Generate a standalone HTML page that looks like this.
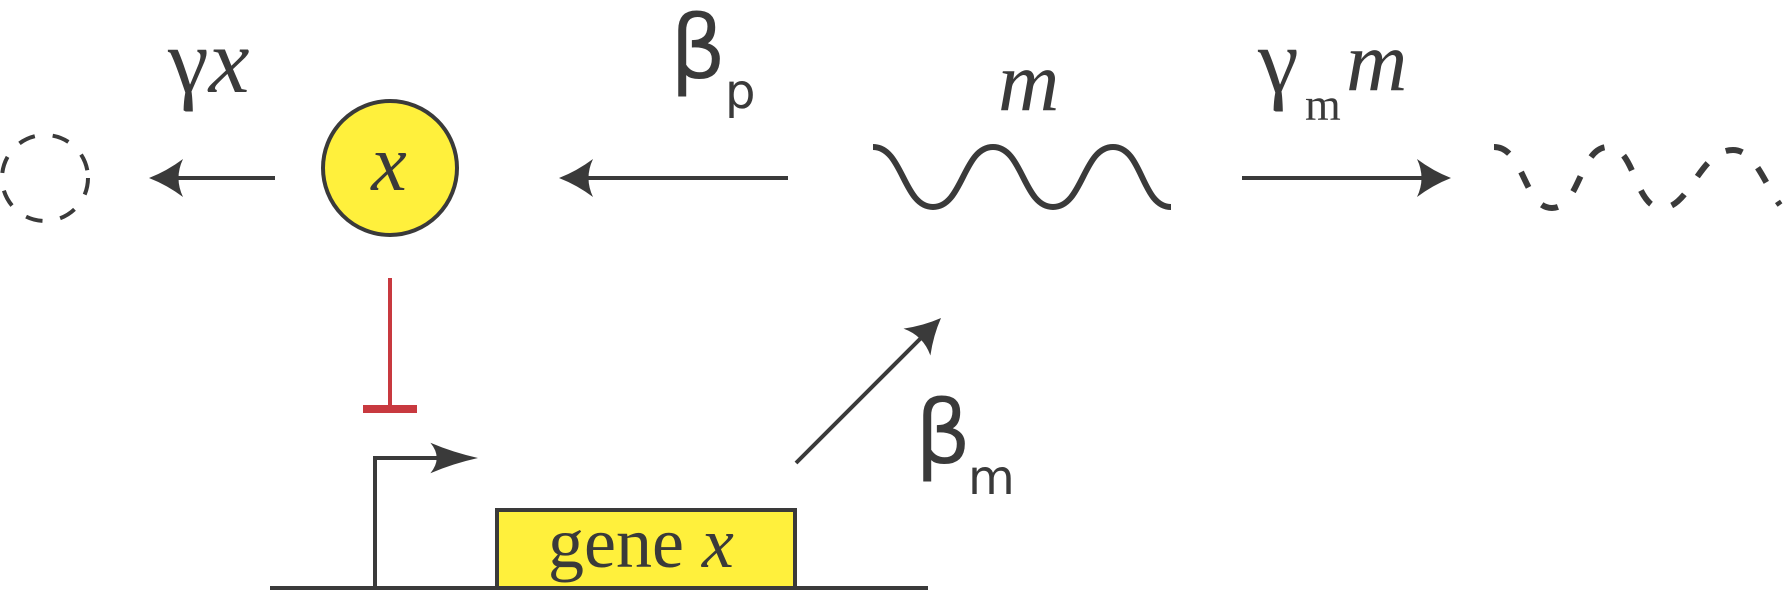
<!DOCTYPE html>
<html><head><meta charset="utf-8"><style>
html,body{margin:0;padding:0;background:#fff;}
svg{display:block;}
.s{font-family:"Liberation Serif",serif;fill:#3a3a3a;}
.d{font-family:"DejaVu Sans",sans-serif;fill:#3a3a3a;}
</style></head><body>
<svg width="1792" height="591" viewBox="0 0 1792 591" xmlns="http://www.w3.org/2000/svg">
<defs>
<path id="ah" d="M0,0 Q-18,-7 -34,-19 Q-25,0 -34,19 Q-18,7 0,0Z" fill="#3a3a3a"/>
</defs>
<!-- dashed degraded protein -->
<circle cx="45" cy="178" r="43" fill="none" stroke="#3a3a3a" stroke-width="4" stroke-dasharray="17 18"/>
<!-- arrow 1 -->
<line x1="275" y1="178" x2="170" y2="178" stroke="#3a3a3a" stroke-width="4"/>
<use href="#ah" transform="translate(149,178) rotate(180)"/>
<text class="s" x="168" y="92" font-size="92">γ<tspan font-style="italic">x</tspan></text>
<!-- protein -->
<circle cx="390" cy="168" r="67" fill="#fff03c" stroke="#3a3a3a" stroke-width="4"/>
<text class="s" x="389" y="190" font-size="80" font-style="italic" text-anchor="middle">x</text>
<!-- arrow 2 -->
<line x1="788" y1="178" x2="580" y2="178" stroke="#3a3a3a" stroke-width="4"/>
<use href="#ah" transform="translate(559,178) rotate(180)"/>
<text class="d" x="670" y="78" font-size="88">β</text>
<text class="d" x="725" y="108" font-size="48">p</text>
<!-- mRNA -->
<path d="M873,147 C903,147 903,207 933,207 C963,207 963,147 993,147 C1023,147 1023,207 1053,207 C1083,207 1083,147 1113,147 C1143,147 1141,207 1171,207" fill="none" stroke="#3a3a3a" stroke-width="6"/>
<text class="s" x="998" y="110" font-size="85" font-style="italic">m</text>
<!-- arrow 3 -->
<line x1="1242" y1="178" x2="1430" y2="178" stroke="#3a3a3a" stroke-width="4"/>
<use href="#ah" transform="translate(1451,178)"/>
<text class="s" x="1258" y="92" font-size="92">γ</text>
<text class="s" x="1305" y="120" font-size="46">m</text>
<text class="s" x="1346" y="90" font-size="85" font-style="italic">m</text>
<!-- degraded mRNA -->
<path d="M1494,147 C1524,147 1524,208 1552,208 C1580,208 1580,147 1608,147 C1636,147 1634,208 1662,208 C1690,208 1700,150 1733,150 C1755,150 1765,185 1780,205" fill="none" stroke="#3a3a3a" stroke-width="6" stroke-dasharray="17 22"/>
<!-- repression -->
<line x1="390" y1="278" x2="390" y2="406" stroke="#c8393f" stroke-width="4"/>
<rect x="363" y="405" width="54" height="8" fill="#c8393f"/>
<!-- promoter -->
<path d="M375,588 L375,458 L455,458" fill="none" stroke="#3a3a3a" stroke-width="4"/>
<use href="#ah" transform="translate(478,458) scale(1.4,0.8)"/>
<!-- DNA baseline -->
<line x1="270" y1="588" x2="928" y2="588" stroke="#3a3a3a" stroke-width="4"/>
<!-- gene box -->
<rect x="497" y="510" width="298" height="78" fill="#fff03c" stroke="#3a3a3a" stroke-width="4"/>
<text class="s" x="548" y="567" font-size="72">gene <tspan font-style="italic">x</tspan></text>
<!-- transcription arrow -->
<line x1="796" y1="463" x2="925" y2="334" stroke="#3a3a3a" stroke-width="4"/>
<use href="#ah" transform="translate(941,318) rotate(-45)"/>
<text class="d" x="915" y="463" font-size="88">β</text>
<text class="d" x="968" y="494" font-size="48">m</text>
</svg>
</body></html>
